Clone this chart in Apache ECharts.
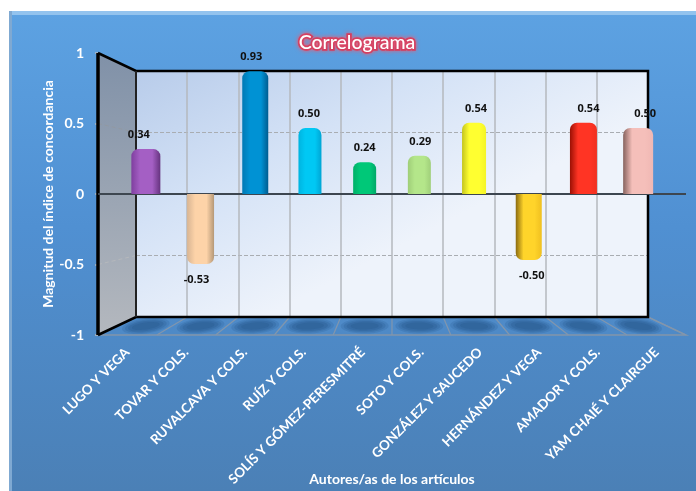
<!DOCTYPE html>
<html><head><meta charset="utf-8">
<style>html,body{margin:0;padding:0;background:#fff}#c{width:696px;height:491px}</style>
<script src="https://cdn.jsdelivr.net/npm/echarts@6/dist/echarts.min.js"></script>
</head><body><div id="c"></div>
<script>
var categories=["LUGO Y VEGA","TOVAR Y COLS.","RUVALCAVA Y COLS.","RUÍZ Y COLS.","SOLÍS Y GÓMEZ-PERESMITRÉ","SOTO Y COLS.","GONZÁLEZ Y SAUCEDO","HERNÁNDEZ Y VEGA","AMADOR Y COLS.","YAM CHAIÉ Y CLAIRGUE"];
var values=[0.34,-0.53,0.93,0.50,0.24,0.29,0.54,-0.50,0.54,0.50];
var yTicks=[-1,-0.5,0,0.5,1];
var barWidths=[29,27,26,23,23,23,24,26,27,30];
var labelNudge=[-7,-4,-4,-1,0,1,2,3,5,7];
var leftShade=["#7f3f9f","#d8b593","#0079b5","#00b4e0","#00b068","#9fce78","#c4c41e","#8a6a10","#9c1004","#86625e"];
var midShade =["#a45fc4","#fdd3a8","#0092d4","#00c8f4","#00c878","#b4e68a","#ffff30","#ffd42a","#ff3424","#f5bfba"];
var rightShade=["#66337f","#b59877","#005c90","#00a5d4","#00a868","#a0cf7a","#f4f426","#f0c020","#f03020","#f0b8b4"];

var back={l:136,t:71,w:512,h:246}, bars={l:118.5,t:62,w:547,h:264}, front={l:98,t:53,w:588,h:282};
var bb=back.t+back.h, fb=front.t+front.h, br=back.l+back.w, fr=front.l+front.w;

var deco=[
 {type:'rect',z:-20,shape:{x:9,y:11,width:687,height:480},style:{fill:new echarts.graphic.LinearGradient(0,0,0,1,[{offset:0,color:'#5da2e2'},{offset:.45,color:'#5090d2'},{offset:1,color:'#4b80b6'}])}},
 {type:'rect',z:-19,shape:{x:9,y:11,width:687,height:4},style:{fill:'#93c3ee'}},
 {type:'rect',z:-19,shape:{x:9,y:11,width:3,height:480},style:{fill:'#7fa9d2'}},
 {type:'polygon',z:-15,shape:{points:[[front.l,front.t],[back.l,back.t],[back.l,bb],[front.l,fb]]},style:{fill:new echarts.graphic.LinearGradient(0,0,0,1,[{offset:0,color:'#8091a8'},{offset:1,color:'#b4b8be'}])}},
 {type:'rect',z:-15,shape:{x:back.l,y:back.t,width:back.w,height:back.h},style:{fill:new echarts.graphic.LinearGradient(0,0,.25,1,[{offset:0,color:'#b8ccea'},{offset:.5,color:'#d4e2f6'},{offset:1,color:'#eef3fb'}])}},
 {type:'polygon',z:-12,shape:{points:[[front.l,fb],[back.l,bb],[br,bb],[fr,fb]]},style:{fill:'rgba(255,255,255,0)',stroke:'#8295aa',lineWidth:1.5}},
 {type:'line',z:-12,shape:{x1:front.l,y1:front.t+front.h*.25,x2:back.l,y2:back.t+back.h*.25},style:{stroke:'rgba(150,150,150,.5)',lineWidth:1,lineDash:[4,3]}},
 {type:'line',z:-12,shape:{x1:front.l,y1:front.t+front.h*.75,x2:back.l,y2:back.t+back.h*.75},style:{stroke:'rgba(190,190,190,.6)',lineWidth:1,lineDash:[4,3]}}
];
categories.forEach(function(c,i){
 if(i==0)return;
 deco.push({type:'line',z:-12,shape:{x1:back.l+back.w*i/10,y1:bb,x2:front.l+front.w*i/10,y2:fb},style:{stroke:'#8296ad',lineWidth:1.2}});
});
deco.push({type:'line',z:-12,shape:{x1:br,y1:bb,x2:fr,y2:fb},style:{stroke:'#8296ad',lineWidth:1.2}});
deco.push({type:'polyline',z:5,shape:{points:[[front.l,front.t],[back.l,back.t],[br,back.t],[br,bb],[back.l,bb],[front.l,fb]]},style:{fill:'none',stroke:'#000',lineWidth:2.5}});
deco.push({type:'line',z:5,shape:{x1:back.l,y1:back.t,x2:back.l,y2:bb},style:{stroke:'#222',lineWidth:2}});
deco.push({type:'line',z:5,shape:{x1:front.l,y1:front.t,x2:front.l,y2:fb},style:{stroke:'#000',lineWidth:3.5}});

function shadowItem(p,api){
 var i=api.value(0), c=api.coord([i,-1]);
 var rings=[[24,7.5,.25],[21,6.2,.3],[18,5,.4],[14,3.5,.5]];
 return {type:'group',children:rings.map(function(q){
  return {type:'ellipse',rotation:(4.5-i)*0.03,originX:c[0],originY:c[1],shape:{cx:c[0],cy:c[1],rx:q[0],ry:q[1]},style:{fill:'#2c5f96',opacity:q[2]}};
 })};
}
function barItem(p,api){
 var i=api.value(0), v=api.value(1), c0=api.coord([i,0]), c1=api.coord([i,v]);
 var w=barWidths[i], y=Math.min(c0[1],c1[1]), h=Math.abs(c1[1]-c0[1]);
 var r=v>0?[7,7,0,0]:[0,0,7,7];
 var g=new echarts.graphic.LinearGradient(0,0,1,0,[{offset:0,color:leftShade[i]},{offset:.3,color:midShade[i]},{offset:.72,color:midShade[i]},{offset:1,color:rightShade[i]}]);
 var ly=v>0?c1[1]-14:c1[1]+16;
 return {type:'group',children:[
  {type:'rect',shape:{x:c1[0]-w/2,y:y,width:w,height:h,r:r},style:{fill:g}},
  {type:'text',z2:20,style:{text:(v.toFixed(2)),x:c1[0]+labelNudge[i],y:ly,align:'center',verticalAlign:'middle',fill:'#111',font:'700 11px "Open Sans"'}}
 ]};
}
var chart=echarts.init(document.getElementById('c'),null,{renderer:'canvas'});
var idx=values.map(function(v,i){return [i,v];});
var hidden={show:false};
var gridBase={outerBoundsMode:'none',containLabel:false};
chart.setOption({
 animation:false,
 title:{text:'Correlograma',left:352,top:28,textAlign:'center',
  textStyle:{color:'#fff',fontFamily:'Lato',fontWeight:500,fontSize:19.5,textBorderColor:'#d3385a',textBorderWidth:3.5,textShadowColor:'#e0607a',textShadowBlur:4}},
 graphic:{elements:deco},
 grid:[
  Object.assign({left:back.l,top:back.t,width:back.w,height:back.h},gridBase),
  Object.assign({left:bars.l,top:bars.t,width:bars.w,height:bars.h},gridBase),
  Object.assign({left:front.l,top:front.t,width:front.w,height:front.h},gridBase)
 ],
 xAxis:[
  {gridIndex:0,type:'category',data:categories,axisLine:hidden,axisTick:hidden,axisLabel:hidden,splitLine:{show:true,interval:0,lineStyle:{color:'#b5b9be',width:1.5}}},
  {gridIndex:1,type:'category',data:categories,axisLine:hidden,axisTick:hidden,axisLabel:hidden},
  {gridIndex:2,type:'category',data:categories,axisLine:{show:false},axisTick:hidden,
   name:'Autores/as de los artículos',nameLocation:'middle',nameGap:137,nameMoveOverlap:false,nameTextStyle:{color:'#fff',fontFamily:'Lato',fontWeight:700,fontSize:14},
   axisLabel:{color:'#fff',fontFamily:'Lato',fontWeight:700,fontSize:13.4,rotate:45,interval:0,margin:15}}
 ],
 yAxis:[
  {gridIndex:0,type:'value',min:-1,max:1,interval:.5,axisLine:hidden,axisTick:hidden,axisLabel:hidden,splitLine:{show:true,lineStyle:{color:'#a9adb2',type:'dashed',width:1}}},
  {gridIndex:1,type:'value',min:-1,max:1,axisLine:hidden,axisTick:hidden,axisLabel:hidden,splitLine:hidden},
  {gridIndex:2,type:'value',min:yTicks[0],max:yTicks[4],interval:.5,splitLine:hidden,axisLine:hidden,
   axisTick:{show:true,length:3,lineStyle:{color:'#b0b8c0',width:1.5}},
   name:'Magnitud del índice de concordancia',nameLocation:'middle',nameGap:43,nameMoveOverlap:false,nameTextStyle:{color:'#fff',fontFamily:'Lato',fontWeight:700,fontSize:14},
   axisLabel:{color:'#fff',fontFamily:'Lato',fontWeight:700,fontSize:14,margin:14}}
 ],
 series:[
  {type:'custom',name:'sombras',xAxisIndex:1,yAxisIndex:1,z:1,clip:false,data:idx,renderItem:shadowItem,silent:true},
  {type:'line',name:'cero',xAxisIndex:2,yAxisIndex:2,z:2,data:[],markLine:{silent:true,symbol:'none',label:{show:false},lineStyle:{color:'#3d4650',width:2,type:'solid'},data:[{yAxis:0}]}},
  {type:'custom',name:'correlación',xAxisIndex:1,yAxisIndex:1,z:10,clip:false,data:idx,encode:{x:0,y:1},renderItem:barItem}
 ]
});
</script></body></html>
